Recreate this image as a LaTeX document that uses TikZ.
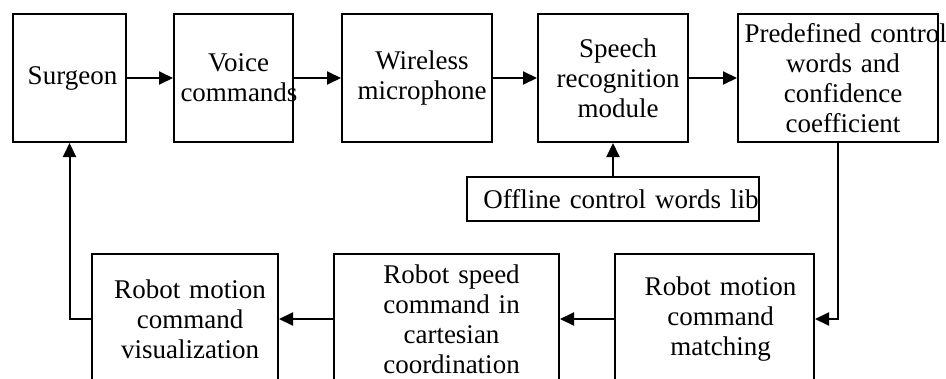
\documentclass[tikz,border=0pt]{standalone}
\usepackage{fontspec}
\setmainfont{Liberation Serif}
\usetikzlibrary{arrows.meta}
\begin{document}
\begin{tikzpicture}[x=1pt,y=1pt,
  blk/.style n args={2}{draw=black, line width=2pt, minimum width=#1, minimum height=#2, inner sep=0pt},
  txt/.style={inner sep=0pt, text width=#1, align=center, font=\fontsize{27}{30}\selectfont},
  conn/.style={line width=2pt, -{Triangle[length=14pt,width=13pt]}}]
\useasboundingbox (0,0) rectangle (946,-378);
\clip (0,0) rectangle (946,-378);
\fill[white] (0,0) rectangle (946,-378);
% top row
\node[blk={113}{128}] (surg) at (69.5,-78) {};
\node[txt=110] (surgT) at ([xshift=3pt]surg.center) {Surgeon};
\node[blk={119}{128}] (voice) at (233.5,-78) {};
\node[txt=116] (voiceT) at ([xshift=5pt]voice.center) {Voice\\commands};
\node[blk={150}{128}] (wire) at (417,-78) {};
\node[txt=147] (wireT) at ([xshift=5pt]wire.center) {Wireless\\microphone};
\node[blk={150}{128}] (speech) at (613,-78) {};
\node[txt=147] (speechT) at ([xshift=5pt]speech.center) {Speech\\recognition\\module};
\node[blk={200}{128}] (pred) at (838,-78) {};
\node[txt=197] (predT) at ([xshift=5pt]pred.center) {\mbox{Predefined control}\\words and\\confidence\\coefficient};
% library
\node[blk={292}{44}] (off) at (613,-199) {};
\node[txt=289] (offT) at ([xshift=8pt]off.center) {Offline control words lib};
% bottom row
\node[blk={199}{130}] (match) at (714.5,-319) {};
\node[txt=196] (matchT) at ([xshift=6pt]match.center) {Robot motion\\command\\matching};
\node[blk={225}{130}] (speed) at (446.5,-319) {};
\node[txt=222] (speedT) at ([xshift=5pt]speed.center) {Robot speed\\command in\\cartesian\\coordination};
\node[blk={186}{130}] (vis) at (185,-319) {};
\node[txt=183] (visT) at ([xshift=5pt]vis.center) {Robot motion\\command\\visualization};
% connectors
\draw[conn] (surg.east) -- (voice.west);
\draw[conn] (voice.east) -- (wire.west);
\draw[conn] (wire.east) -- (speech.west);
\draw[conn] (speech.east) -- (pred.west);
\draw[conn] (off.north) -- (speech.south);
\draw[conn] (pred.south) |- (match.east);
\draw[conn] (match.west) -- (speed.east);
\draw[conn] (speed.west) -- (vis.east);
\draw[conn] (vis.west) -| (surg.south);
\end{tikzpicture}
\end{document}
